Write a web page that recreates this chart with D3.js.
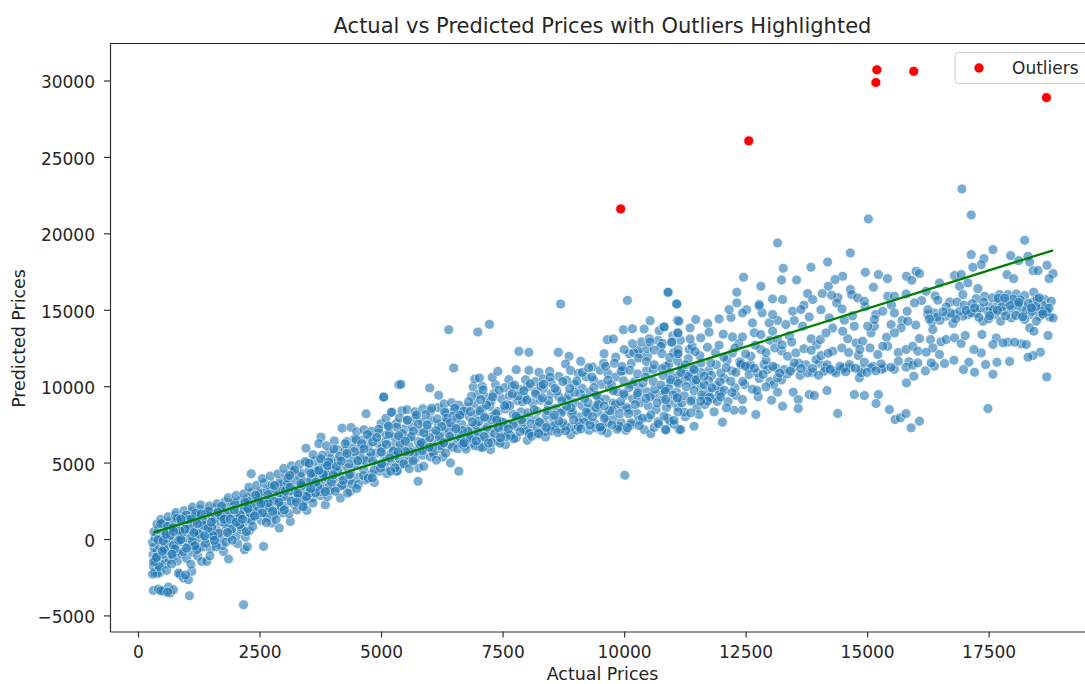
<!DOCTYPE html>
<html>
<head>
<meta charset="utf-8">
<script src="https://cdn.jsdelivr.net/npm/d3@7"></script>
<style>
  html, body { margin: 0; padding: 0; background: #fff; }
  svg { display: block; }
  text { font-family: "DejaVu Sans", sans-serif; fill: #262626; }
</style>
</head>
<body>
<svg id="chart" width="1085" height="684"></svg>
<script>
// all values, [actual, predicted]
const lowTail = [[316,-3363],[420,-3276],[522,-3428],[625,-3145],[660,-3537],[728,-3319],[1058,-3711],[2171,-4300],[470,-3380],[610,-3480],
  [350,-2185],[454,-2185],[400,-2250],[866,-2338],[935,-2556],[1037,-2665],[831,-2229],[1106,-2120],[300,-2300],[980,-2350],
  [320,-1800],[410,-1720],[350,-1400],[480,-1360],[310,-1020],[560,-1600],[640,-1340],[390,-880],[520,-1000],[720,-1180],[620,-760],[810,-1440],[780,-880],[900,-980],[1000,-1280],[1120,-860],[1230,-1130],[1310,-1470],[1415,-1466],[1245,-610],
  [330,-560],[440,-440],[300,-210],[560,-300],[680,-240],[790,-360],[900,-190],[1040,-420],[1170,-280],[1330,-520],[1490,-610],[1590,-240],[1760,-812],[1862,-1313],[2192,-703],[2250,-500],[2583,-485],[2050,-300],[1730,-430],
  [350,90],[470,190],[600,60],[740,120],[860,250],[990,90],[1110,210],[1270,110],[1400,40],[1560,170],[1700,60],[1880,160],[2030,230],[2210,110],
  [330,480],[420,640],[560,510],[670,590],[800,680],[930,470],[1060,640],[1190,560],[1320,660],[1470,520],[1620,580],[1790,510],[1950,690],[2130,610],[2290,540],
  [390,980],[520,1020],[640,1110],[760,1040],[890,1130],[1010,1010],[1140,1120],[1270,1060],[1410,1190],[1560,1020],[1700,1130],[1860,1060],[2010,1180],[2180,1090],[2340,1230],[2535,1215],[2755,1041],[2906,714],[3133,1150],
  [470,1280],[620,1460],[770,1510],[930,1400],[1090,1540],[1230,1480],[1380,1590],[1530,1480],[1670,1640],[1830,1520],[1990,1610],[2140,1530],[2290,1680],[2450,1600],[2610,1690],[2790,1560],[2970,1700],[3476,1869],
  [780,1730],[950,1850],[1110,1800],[1270,1950],[1430,1890],[1590,2040],[1740,1960],[1900,2090],[2060,2000],[2220,2140],[2380,2060],[2540,2180],[2700,2090],[2860,2240],[3020,2150],[3200,2280],[3380,2190],[3854,2240],
  [1120,2090],[1290,2230],[1470,2160],[1630,2310],[1790,2430],[1950,2360],[2110,2530],[2270,2470],[2430,2640],[2590,2560],[2750,2700],[2910,2620],[3080,2750],[3250,2660],[3420,2790],[3590,2700],[3760,2840],[4163,2676]];

const bandLeft = [[1860,2700],[2020,2840],[2180,2960],[2340,3060],[2500,2980],[2660,3180],[2820,3090],[2980,3240],[3140,3140],[3300,3310],[3460,3210],[3620,3380],[3780,3280],[3940,3460],[4100,3360],[4369,3112],[4250,3530],
  [2280,3390],[2440,3510],[2600,3640],[2760,3560],[2920,3740],[3080,3660],[3240,3840],[3400,3760],[3560,3940],[3720,3850],[3880,4040],[4040,3950],[4200,4120],[4360,3880],[4520,4040],[4680,3860],[4864,3700],
  [2329,4267],[2560,3950],[2720,4120],[2880,4260],[3040,4190],[3200,4380],[3360,4310],[3520,4480],[3680,4420],[3840,4600],[4000,4520],[4160,4720],[4320,4640],[4480,4820],[4640,4560],[4800,4260],[4960,4440],[5120,4280],[5331,4485],
  [3000,4620],[3160,4790],[3320,4880],[3480,4990],[3640,5100],[3800,5010],[3960,5220],[4120,5160],[4280,5360],[4440,5280],[4600,5150],[4760,5340],[4920,4880],[5080,4700],[5240,5020],[5400,4840],[5560,5000],
  [3456,5946],[3600,5520],[3765,6665],[3940,5640],[4100,5860],[4260,5780],[4420,5980],[4580,5890],[4740,6100],[4900,5620],[5060,5460],[5220,5640],[5380,5260],[5540,5480],[5700,5210],[5860,5480],[6015,5367],[6270,5367],
  [3720,6240],[3880,6100],[4040,6420],[4198,7254],[4383,7298],[4300,6380],[4460,6560],[4620,6480],[4780,6680],[4940,6250],[5100,6400],[5260,6120],[5420,5920],[5580,6080],[5740,5800],[5900,5990],[6060,5720],[6220,5900],[6428,4975],
  [4500,7020],[4650,7150],[4800,7040],[4960,6920],[5120,6820],[5280,6660],[5440,6480],[5600,6620],[5760,6380],[5920,6540],[6080,6280],[6240,6440],[6400,6180],[6560,6340],[6720,6090],[6880,6280],[7040,6010],[7252,5847],
  [4692,8191],[5056,9281],[5228,8300],[5366,10088],[5000,7550],[5160,7400],[5320,7560],[5480,7200],[5640,7360],[5800,7040],[5960,7180],[6120,6880],[6280,7040],[6440,6720],[6600,6880],[6760,6620],[6920,6780],[7080,6560],[7240,6720],[7561,6174],[7400,6440],
  [5100,7900],[5212,8288],[5432,8398],[5535,8463],[5380,7920],[5540,7760],[5700,7920],[5860,7640],[6020,7780],[6180,7500],[6340,7660],[6500,7340],[6660,7500],[6820,7220],[6980,7380],[7140,7120],[7300,7260],[7460,6980],[7620,6840],[7780,6620],[8008,6457],
  [5054,9291],[5411,10120],[6002,9880],[6187,9400],[5700,8320],[5860,8520],[6020,8380],[6180,8600],[6340,8260],[6500,8440],[6660,8160],[6820,8000],[6980,8160],[7140,7880],[7300,8040],[7460,7700],[7620,7520],[7780,7360],[7940,7180],[8100,7020],[8260,6860],[8386,6675],
  [5328,4430],[5775,4648],[5761,3776],[6600,4430],[6300,8840],[6450,8920],[6600,8760],[6760,8600],[6920,8860],[7080,8500],[7240,8680],[7400,8340],[7560,8500],[7720,8160],[7880,8320],[8040,7980],[8200,7780],[8360,7580],[8520,7380],[8680,7180],[8901,6828],
  [6393,13695],[6991,13542],[7231,14044],[6496,11188],[6895,9945],[7080,9989],[7355,10098],[6929,10468],[7025,10534],[7286,10577],[7630,10425],[7973,10425],[7403,10970],[7781,11079],[8042,11035],[8248,10905],[8468,10970],[7836,12278],[8042,12213],[8647,12213],[8867,11951],[8798,11450],[9107,11624],[8695,15374],
  [7000,9460],[7160,9280],[7320,9520],[7480,9180],[7640,9380],[7800,9060],[7960,9260],[8120,8900],[8280,9080],[8440,8740],[8600,8560],[8760,8380],[8920,8180],[9080,7980],[9240,7780],[9400,7560],[9279,7111],[9560,7340],
  [7540,9900],[7700,10000],[7860,9780],[8020,9960],[8180,9640],[8340,9840],[8500,9500],[8660,9300],[8820,9100],[8980,8920],[9140,8720],[9300,8500],[9460,8280],[9620,8060],[9780,7840],[9940,7620],[9657,6937],[10035,7111],
  [8180,10300],[8340,10480],[8500,10220],[8660,10640],[8820,10380],[8980,10120],[9140,9860],[9300,9620],[9460,9360],[9620,9140],[9780,8900],[9940,8680],[10100,8460],[10260,8220],[10412,7155],[10550,6893],[10859,7111],[11134,7155],
  [8900,11020],[9060,10840],[9220,10600],[9380,10380],[9540,10120],[9700,9880],[9860,9640],[10020,9400],[10180,9160],[10340,8920],[10500,8700],[10660,8460],[10300,7760],[10500,7920],[10700,7680],[10900,7900],[10150,7460],[9900,7300],
  [9350,11260],[9510,11040],[9670,10820],[9830,10600],[9990,10360],[10150,10120],[10310,9880],[10470,9640],[10630,9400],[10790,9160],[10950,8880],[11110,8640],[9588,12125],[10103,12125],[10330,12125],[10481,11951],[11099,12125],[10014,4168]];

const bandMiddle = [[9800,11500],[9960,11280],[10120,11040],[10280,10800],[10440,10580],[10600,10320],[10760,10080],[10920,9840],[11080,9600],[11240,9380],[11400,9120],
  [9986,13695],[10172,13760],[10412,13738],[10536,14283],[10721,13630],[10825,13869],[11099,14305],[11099,13477],[9657,13041],[9780,13085],[10172,12779],[10536,12888],[10982,12888],[10069,15613],[10907,16137],[11085,15374],
  [10300,11840],[10460,11620],[10620,11400],[10780,11140],[10940,10880],[11100,10640],[11260,10400],[11420,10160],[11580,9900],[11740,9640],
  [10620,12360],[10780,12120],[10940,11880],[11100,11640],[11260,11400],[11420,11160],[11580,10900],[11740,10360],[11900,10020],[12060,9740],[12220,9580],
  [10904,16145],[11083,15382],[11131,14248],[10822,13878],[11110,13485],[10980,12875],[11358,13812],[11358,13092],[11577,13158],[11474,14357],[11715,12547],[11461,12264],[11110,12133],[11749,13529],[11955,12678],[11955,14401],[12161,15011],[12230,13223],[12436,13223],[12436,14793],[12319,16145],[12319,15447],[12457,17126],[12780,15229],[12780,15338],[12642,14139],[12986,14139],[13055,13594],[12814,13376],[13158,13049],[12608,11959],[12814,12395],[12402,11523],[12230,12177],[13467,14902],[13638,15011],[13261,15665],[13055,15709],[13055,14684],[13329,14030],[13673,13921],[13810,14531],
  [13158,19371],[14655,18717],[14188,18128],[13845,17780],[13274,17714],[13240,16951],[13549,16951],[12814,16537],[15026,20941],[17142,21202],[16950,22900],
  [14497,17191],[14339,16973],[14202,16537],[14964,17453],[15232,17300],[15418,17038],[15129,16472],[14655,16319],[14683,15992],[14078,16058],[14270,15948],[13776,16058],[13879,15665],[14374,15447],[14483,15055],[14806,15774],[14944,15556],
  [14037,13049],[14154,13485],[14291,12286],[14497,13594],[14772,12831],[14909,12940],[15081,13485],[15150,13921],[14737,13921],[14531,14313],[14222,14466],[15322,14902],[15562,14793],[15823,14902],[15837,14248],[15699,13812],[15493,14030],[15150,14357],[15012,13921],[15562,13485],
  [15809,17191],[16008,17518],[16077,17365],[15919,16929],[16215,16210],[15425,15883],[15562,15883],[15802,16036],[15974,15447],
  [16799,17235],[16936,17300],[16489,16755],[16902,16537],[17073,16755],[17279,16384],[16970,15992],[17417,15883],[17245,15730]];

const bandLower = [[10800,10700],[10960,10420],[11120,10180],[11280,9960],[11440,9700],[11600,9420],[11760,9280],[11920,9000],[10850,9650],[11010,9420],[11170,10900],[11330,10640],[11490,10420],[11650,10100],[11810,9880],[11970,10300],
  [11440,11087],[11646,10651],[11784,11523],[11990,10869],[12196,10324],[12402,11414],[12574,10760],[12745,10869],[12951,11087],[13158,10542],[13295,11087],[13501,11523],[13364,11959],[13535,12177],[13776,10869],[13948,11741],[14119,10978],[14360,10869],[14636,11414],[14841,10542],[14875,10869],[14944,11567],[15081,11196],[15287,11458],[15493,11240],[15644,11632],[15802,11240],[15940,11370],[16043,11523],[15961,10651],[15809,10215],
  [12100,11200],[12300,10900],[12500,11300],[12680,11180],[12860,10760],[13060,11300],[13200,10860],[13420,10980],[13640,11160],[13880,11160],[14000,10720],[14240,11100],[14440,11300],[14560,10940],[14760,11180],[15000,10900],[15180,11000],
  [12050,11900],[12280,12500],[12500,12100],[12700,12680],[12920,12200],[13100,12500],[13250,12700],[13450,12880],[13700,12450],[13850,12350],[14050,12000],[14200,12150],[14480,12500],[14620,12200],[14850,12400],[15219,12068],[15425,12613],[15322,12613],[15802,12395],[15940,12613],[16043,12286],
  [14174,9714],[14737,9452],[14944,9387],[15232,9452],[15184,8863],[15459,8471],[15576,7817],[15686,7926],[15802,8209],[16077,7708],[15905,7272],[14394,8209],[13810,9452],[13914,9387],[13480,9605],[13583,9125],[13583,8536],[13261,8689],[13034,9081],[13158,9605],[12917,9953],[12732,9714],[12711,8144],[12436,9125],[12436,8427],[12264,8427],[12106,8580],[12024,7643],[11852,8318],[11990,9299],[11715,9016],[11577,9016],[11543,8144],[11371,8253],[11028,7773],[11165,7163],[10856,7163],[11440,7381],[11110,8318],[10822,8035],[11371,9016],[11097,9234],[10856,9125]];

const bandRight = [[17726,15992],[17898,15992],[18070,16036],[18241,15927],[18427,16145],[18654,15665],[18791,15556],[17520,15229],[17692,15447],[17864,15556],[18035,15447],[18207,15229],[18516,15011],[18688,15120],[17623,14684],[17795,14902],[17967,15011],[18139,14793],[18344,14684],[18550,14575],[18757,14531],[18825,14466],[17245,14793],[17073,14684],[17383,14248],[17747,14248],[17967,14466],[18241,14357],[18482,14248],[18344,13812],[18433,13594],[18600,15300],[18420,15500],[17580,15780],[18150,15650],[18700,14850],[17480,14900],
  [18722,13311],[18564,12221],[18413,12003],[18310,11894],[18695,10607],[17486,8536],[17589,10782],[17932,11610],[17671,11567],[17437,11414],[17362,13376],[17657,13158],[17898,12875],[18173,12766],[18276,12722],[17589,12722],[17795,12831],[18035,12875],[17348,12177],[17197,12395],[17094,11567],[16984,11087],[17211,10912],
  [16249,14684],[16386,14793],[16331,14183],[16352,13703],[16455,15621],[16627,15185],[16799,14684],[16627,14575],[16764,14095],[16970,14575],[17142,14793],[16500,14300],[16900,14900],[16250,15000],
  [16077,13114],[16304,13049],[16627,13049],[16799,13158],[16936,12787],[17018,13311],[16352,12504],[16215,12221],[16489,12068],[16786,11697],[16593,11479],[16386,11305],[16318,11523],
  [17142,18608],[17589,18935],[17403,18346],[17348,17954],[17176,17780],[18241,19545],[17953,18543],[18118,18215],[18310,18499],[18344,18128],[18413,17562],[18516,17562],[18701,17910],[18825,17365],[18743,17038],[17877,17300],[18014,17038],
  [16850,15500],[17000,15300],[17160,15400],[17330,15100],[17500,14400],[17600,15000],[17850,14600],[18000,15700],[18100,15300],[18280,15000],[18400,14900],[18600,14900],[18500,15700],[18740,15100],[17300,14500],[17700,15750],[17400,15500],
  [17780,15200],[17940,15280],[18120,15480],[18320,15420],[18470,15220],[18620,14720],[17680,14960],[17520,14600],[18060,14620],[18200,14540],[18380,15120],[18540,15780],[17830,15760],[16820,14400],[17040,14960],[17210,15120],[16720,14780],[16440,14520],[16560,14860],[16280,14400]];

const denseStart = [[410,-60],[470,1010],[540,-640],[610,820],[660,240],[730,-420],[800,1350],[860,530],[930,-820],[990,1560],[1060,880],[1120,-130],[1190,1690],[1260,320],[1320,1240],[1390,-280],[1450,1820],[1520,740],[1590,1340],[1660,370],[1720,2140],[1790,1010],[1850,1690],[1920,640],[1990,2380],[2050,1350],[2120,780],[2190,1920],[2250,2670],[2320,1240],[2390,2210],[2460,1830],[2520,3080],[2590,2340],[2660,1420],[2730,3320],[2790,2540],[2860,1840],[2930,3560],[3000,2780],
  [360,-1300],[440,-1820],[520,-120],[590,-2050],[690,-1640],[760,-640],[840,-100],[970,640],[1090,-1650],[1150,420],[1210,-700],[1350,880],[1480,-1100],[1540,220],[1610,-500],[1680,1560],[1810,-210],[1940,-80],[2100,1580],[2230,480],[2360,810],[2480,2540],[2640,1080],[2700,2050],[2840,1280],[2900,3000],[3050,3500],[3110,1650],[3190,3200],[3270,1900],[3340,4100],[3430,2500],[3510,3700],[3600,2350],[3680,4580],[3750,3100],[3830,3580],[3900,2780],[3970,4950]];

const denseMid = [[3080,3980],[3150,2480],[3220,4520],[3300,2850],[3370,3500],[3440,5060],[3530,3040],[3610,4240],[3700,3420],[3790,5480],[3860,4270],[3940,3180],[4030,5880],[4110,4380],[4190,3500],[4260,6240],[4340,4900],[4410,3620],[4490,6500],[4570,5460],[4640,4150],[4720,6840],[4790,5640],[4860,4520],[4950,7180],[5020,5950],[5090,5080],[5170,6880],[5250,5760],[5320,7320],[5390,6220],[5470,4920],[5540,7780],[5620,6700],[5690,5620],[5770,7520],[5850,5780],[5920,8140],[6000,6640],[6080,5560],[6160,7860],[6230,6100],[6310,8300],[6390,7180],[6470,6000],
  [3520,4950],[3650,3020],[3760,5260],[3920,5040],[4060,3120],[4150,5420],[4310,3000],[4450,5720],[4530,3560],[4680,5120],[4830,6360],[4990,4640],[5150,7380],[5290,4660],[5440,6900],[5590,5700],[5730,8120],[5880,6960],[6040,8560],[6200,6700],[6350,7900],[6520,8560],[6640,6600],[6700,8360],[6790,7040],[6860,9340],[6950,7480],[7030,8400],[7100,9760],[7180,7320],[7260,9020],[7340,6900],[7430,9740],[7510,7640],[7590,8800],[7670,6780],[7750,10080],[7830,7900],[7910,8980],[7990,7100],[8070,10160]];

const denseUpper = [[6540,7220],[6620,8100],[6710,6300],[6800,8980],[6880,7660],[6960,6420],[7050,9120],[7130,7980],[7210,6280],[7300,9300],[7380,7780],[7460,6620],[7540,8720],[7620,7200],[7700,9500],[7780,8040],[7860,7020],[7940,9700],[8020,8260],[8100,6720],[8180,9480],[8260,7640],[8340,10120],[8420,8400],[8500,7060],[8580,9860],[8660,7720],[8740,10300],[8820,8680],[8900,7320],[8980,9600],[9060,7340],[9140,10900],[9220,8300],[9300,7460],[9380,9900],[9460,8800],[9540,7100],[9620,11300],[9700,8400],[9780,9700],[9860,7180],[9940,10980],
  [8150,8460],[8240,6900],[8320,9240],[8400,7300],[8480,10600],[8560,8100],[8640,6960],[8720,9040],[8800,7080],[8880,9840],[8960,7800],[9030,10340],[9110,7200],[9190,9200],[9270,11200],[9350,8000],[9430,9400],[9510,7320],[9590,8700],[9670,10400],[9750,7460],[9830,11900],[9910,8200],[9990,9500],[10070,7280],[10150,11500],[10230,8800],[10310,7420],[10390,10200],[10470,12460],[10550,8120],[10630,9800],[10710,7540],[10790,12800],[10870,8600],[10950,10260],[11030,7500],[11110,12400],[11190,8900],[11270,10800],
  [10000,12400],[10090,8200],[10200,12200],[10280,9560],[10360,12900],[10450,9200],[10520,13100],[10600,11100],[10680,8900],[10760,12600],[10840,9780],[10920,11400],[11000,13300],[11080,10300],[11160,13000],[11240,8300],[11320,11800],[11400,12600],[11480,10400],[11560,12000],[11640,9300],[11720,14100],[11800,10700],[11880,12200],[11960,9500],[12040,13400],[12120,11700],[12200,14500],[12280,9900],[12360,12800],[12440,10300],[12520,15000],[12600,11400],[12680,13500],[12760,9300],[12840,14800],[12920,11700],[13000,13000],[13080,10100],[13160,14300],
  [13240,12300],[13400,13300],[13500,14300],[13600,11500],[13700,15300],[13850,13100],[13960,12700],[14050,15000],[14180,11400],[14290,13800],[14400,15800],[14520,11200],[14600,13100],[14700,14600],[14820,12000],[14960,15200],[15060,12500],[15180,14700],[15300,11100],[15400,13200],[15500,15300],[15640,12200],[15720,14300],[15860,11600],[16000,14000],[16120,15600],[16200,11000],[16400,15900],[16520,12900],[16700,15500]];

const denseExtra = [[720,740],[880,-40],[1030,1270],[1170,-450],[1300,1640],[1440,690],[1570,-90],[1710,1480],[1840,430],[1980,1900],[2090,950],[2200,2420],[2310,1720],[2420,2860],[2560,1720],[2680,2380],[2810,3500],[2950,2120],[3030,3130],[3120,4160],[3260,2420],[3350,3640],[3470,2780],[3560,4300],[3660,3720],[3810,4240],[3900,4800],[3980,3720],[4080,4740],[4220,3840],[4300,5600],[4380,4280],[4520,5120],[4600,6240],[4740,3980],[4830,5100],[4910,6640],[5010,4920],[5110,6180],[5200,4440],[5300,5460],[5360,6760],[5500,5720],[5580,4600],[5660,7060],[5800,6180],[5880,4760],[5950,7460],[6060,6000],[6140,5160],[6250,7360],[6330,5620],[6410,6700],[6480,8040],[6580,5900],[6670,7100],[6750,5880],[6840,8340],[6930,6100],[7010,7700],[7090,5990],[7170,8760],[7280,6320],[7360,8200],[7450,6260],[7530,7360],[7650,8720],[7730,6560],[7820,9360],[7920,7640],[8000,9100],[8090,7540],[8210,8360],[8290,10000],[8370,7000],[8450,9060],[8540,7920],[8620,9680],[8700,8240],[8780,7400],[8860,9400],[8940,8300],[9020,7120],[9100,9500],[9180,7660],[9260,8920],[9340,10600],[9420,7260],[9500,9000],[9580,11500],[9660,7620],[9740,10100],[9820,8800],[9900,7400],[9980,11000],[10060,8600],[10140,7600],[10220,10300],[10300,12400],[10380,7900],[10460,11000],[10540,9300],[10620,7300],[10700,13000],[10780,9700],[10860,11300],[10940,7700],[11020,12200],[11100,9200],[11180,11200],[11260,8000],[11340,12400],[11420,10800],[11500,8600],[11580,11500],[11660,8800],[11740,11000],[11820,9200],[11900,11400],[11980,9700],[12060,10500],[12140,9000],[12220,11000],[12300,9400],[12380,11600],[12480,10100],[12560,11200],[12640,9800],[12780,10500],[12880,11400],[13000,10300],[13120,11200],[13240,10400],[13360,10800],[13480,11200],[13620,10700],[13740,11400],[13880,10900],[14020,11500],[14140,11200],[14300,11000],[14480,11100],[14660,11200],[14880,11100],[15120,11300],[15350,11200],[15560,11100],
  [320,-1500],[380,-1200],[500,-800],[700,-1000],[580,300],[730,500],[880,1300],[1000,-600],[1100,1300],[1220,1000],[1370,200],[1510,1100],[1640,1750],[1770,1300],[1900,1300],[2020,1100],[2150,1300],[2260,2000],[2400,1500],[2530,2300],[2670,2900],[2770,1800],[2900,2400],[3010,1900],[3130,3400],[3290,3000],[3400,2100],[3550,3300],[3720,4500],[3850,3100],[4020,4200],[4180,5100],[4350,4200],[4500,3300],[4650,5900],[4820,4000],[5000,5700],[5180,5300],[5350,5700],[5500,6400],[5660,5100],[5830,6300],[5990,6000],[6130,7100],[6290,6300],[6430,7600],[6560,7900],[6680,6200],[6830,6600],[6990,7000],[7120,6700],[7270,7800],[7410,7300],[7570,6700],[7720,7500],[7890,7800],[8050,6900],[8220,7300],[8400,8100],[8570,7400],[8740,7600],[8910,8600],[9080,7600],[9250,8200],[9420,8600],[9590,7900],[9760,8400],[9930,9000],[10100,9900],[10270,9400]];

const outlierActual = [9930, 12565, 15180, 15200, 15960, 18690];
const outlierPredicted = [21600, 26050, 29870, 30700, 30600, 28880];

const fitActual = [315, 18825];
const fitPredicted = [413, 18891];

const xTicks = [0, 2500, 5000, 7500, 10000, 12500, 15000, 17500];
const yTicks = [-5000, 0, 5000, 10000, 15000, 20000, 25000, 30000];

const svg = d3.select('#chart');
const x = d3.scaleLinear().domain([-576, 19750]).range([110, 1098]);
const y = d3.scaleLinear().domain([-6052, 32421]).range([631.5, 43.5]);

const minus = d => String(d).replace('-', '\u2212');

const xAxis = svg.append('g')
  .attr('transform', 'translate(0,631.5)')
  .call(d3.axisBottom(x).tickValues(xTicks).tickSize(6).tickSizeOuter(0).tickPadding(8).tickFormat(minus));
const yAxis = svg.append('g')
  .attr('transform', 'translate(110,0)')
  .call(d3.axisLeft(y).tickValues(yTicks).tickSize(6).tickSizeOuter(0).tickPadding(9).tickFormat(minus));
[xAxis, yAxis].forEach(a => {
  a.selectAll('text').style('font-size', '17px').attr('fill', '#262626');
  a.selectAll('line, path').attr('stroke', '#333').attr('stroke-width', 1.2);
});
yAxis.selectAll('text').attr('dy', '0.44em');

// top spine, the right one falls outside the crop
svg.append('line')
  .attr('x1', 110).attr('x2', 1085)
  .attr('y1', y.range()[1]).attr('y2', y.range()[1])
  .attr('stroke', '#222').attr('stroke-width', 1.2);

const points = [...lowTail, ...denseStart, ...bandLeft, ...denseMid, ...denseExtra, ...denseUpper, ...bandMiddle, ...bandLower, ...bandRight];
svg.append('g').selectAll('circle')
  .data(points)
  .enter().append('circle')
  .attr('cx', d => x(d[0]))
  .attr('cy', d => y(d[1]))
  .attr('r', 5)
  .attr('fill', '#1f77b4')
  .attr('stroke', '#fff')
  .attr('stroke-width', 0.8)
  .attr('opacity', 0.6);

svg.append('g').selectAll('circle')
  .data(outlierActual)
  .enter().append('circle')
  .attr('cx', d => x(d))
  .attr('cy', (d, i) => y(outlierPredicted[i]))
  .attr('r', 5)
  .attr('fill', 'red')
  .attr('stroke', '#fff')
  .attr('stroke-width', 0.8);

svg.append('path')
  .datum(fitActual)
  .attr('fill', 'none')
  .attr('stroke', 'green')
  .attr('stroke-width', 2.3)
  .attr('d', d3.line().x(d => x(d)).y((d, i) => y(fitPredicted[i])));

svg.append('text')
  .attr('x', 602.5).attr('y', 32.5)
  .attr('text-anchor', 'middle')
  .style('font-size', '21px')
  .text('Actual vs Predicted Prices with Outliers Highlighted');
svg.append('text')
  .attr('x', 602.5).attr('y', 679.5)
  .attr('text-anchor', 'middle')
  .style('font-size', '17.4px')
  .text('Actual Prices');
svg.append('text')
  .attr('transform', 'translate(25,338.5) rotate(-90)')
  .attr('text-anchor', 'middle')
  .style('font-size', '17.4px')
  .text('Predicted Prices');

// legend
const legend = svg.append('g');
legend.append('rect')
  .attr('x', 955).attr('y', 52.5)
  .attr('width', 140).attr('height', 31)
  .attr('rx', 3)
  .attr('fill', '#fff').attr('fill-opacity', 0.8)
  .attr('stroke', '#ccc');
legend.append('circle')
  .attr('cx', 979).attr('cy', 68)
  .attr('r', 4.7)
  .attr('fill', 'red');
legend.append('text')
  .attr('x', 1012).attr('y', 74)
  .style('font-size', '17px')
  .text('Outliers');
</script>
</body>
</html>
